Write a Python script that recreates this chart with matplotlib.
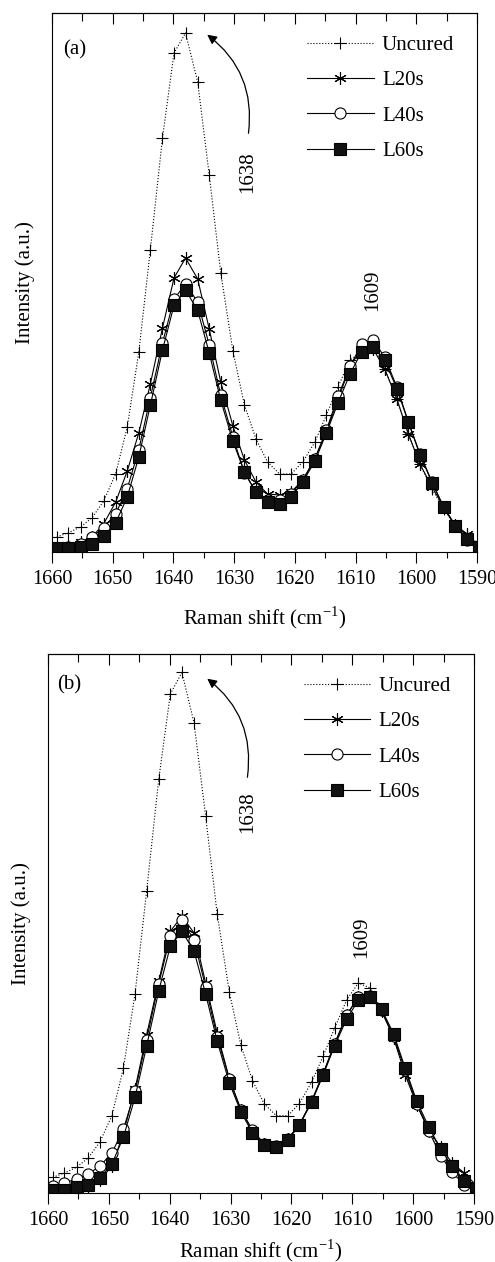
import matplotlib
matplotlib.use("Agg")
import matplotlib.pyplot as plt
from matplotlib.ticker import MultipleLocator

plt.rcParams['font.family'] = ['Liberation Serif', 'DejaVu Serif']
plt.rcParams['mathtext.fontset'] = 'custom'
plt.rcParams['mathtext.rm'] = 'Liberation Serif'
plt.rcParams['font.size'] = 15

# Raman shift positions of the sampled points (cm-1)
shift = [1659.2, 1657.3, 1655.3, 1653.4, 1651.5, 1649.5, 1647.6, 1645.7, 1643.8,
         1641.8, 1639.9, 1638.0, 1636.0, 1634.1, 1632.2, 1630.2, 1628.3, 1626.4,
         1624.5, 1622.5, 1620.6, 1618.7, 1616.7, 1614.8, 1612.9, 1610.9, 1609.0,
         1607.1, 1605.2, 1603.2, 1601.3, 1599.4, 1597.4, 1595.5, 1593.6, 1591.6,
         1589.7]

# panel (a)
a_uncured = [15, 19.3, 25, 34.3, 50.7, 78.3, 125, 200, 302, 414, 499, 519, 470, 377,
             279, 201, 147, 113, 90, 78, 78, 90, 110, 137, 165, 192, 200, 207, 183,
             153, 118, 88, 63, 43, 27, 17, 8]
a_l20 = [3, 6.7, 10, 15, 28, 50, 81, 119, 168, 224, 274, 294, 273, 223, 170, 126, 92,
         70, 58, 57, 60, 72, 93, 121, 152, 186, 203, 203, 183, 153, 118, 88, 65, 45,
         27, 18, 6]
a_l40 = [2.3, 5, 8.3, 15, 24.3, 38.3, 63.3, 102.3, 154.3, 209, 253, 268, 250, 207,
         156.7, 115, 79.3, 60, 51.7, 51.7, 58.3, 71.7, 93.3, 121.7, 155.7, 185.7,
         207.7, 211.7, 195, 165, 130, 98.3, 70, 45, 26, 11.7, 4]
a_l60 = [4, 4.3, 5, 8.3, 15.7, 29.3, 55, 95, 146.7, 202, 246.7, 261.7, 241.7, 199,
         151.7, 110.7, 80, 59.7, 50, 48.3, 55, 70, 90.7, 119, 149, 178.3, 200, 205,
         191.7, 163.3, 130, 97.3, 69.3, 45, 26, 12.7, 5]

# panel (b)
b_uncured = [15.7, 20, 25.7, 35, 50.7, 77.3, 125, 199.3, 301.7, 414, 499, 520.6, 470,
             376.7, 279, 200.7, 147.7, 112.3, 89.3, 77.3, 77.3, 89.3, 110.7, 136.7,
             165, 193.3, 210, 205, 183, 155, 120, 90, 63, 42, 26, 14, 5]
b_l20 = [1.7, 0, 3.3, 6.7, 13, 26.7, 60, 104, 158, 212, 261.7, 276.7, 260, 210, 160,
         114, 83, 62, 49, 46, 54, 68, 91, 119, 149, 178, 196, 197, 182, 155, 118, 88,
         62, 46, 30, 20, 8]
b_l40 = [6.7, 10, 14, 19, 26.7, 40, 64, 101.7, 153.3, 209.3, 256.7, 273.3, 252.7, 206,
         156, 114, 83.3, 62.7, 49.3, 46.7, 54, 68.3, 91.7, 119.3, 149.3, 178.3, 196,
         197.3, 182.7, 156.7, 122.7, 89.3, 61.7, 37.3, 20.7, 8.3, 2]
b_l60 = [3.3, 3.3, 6, 8.3, 15, 29, 56, 95.7, 146.7, 202.3, 246.7, 261.7, 241.7, 199,
         151.7, 110, 81, 60, 48.3, 45.7, 52.7, 67.7, 90.7, 117.7, 147.3, 174.3, 192.7,
         196, 184, 159, 124.7, 91.7, 65.7, 44, 26.7, 11.7, 4]


def panel(ax, tag, uncured, l20, l40, l60, lab1638, arrow, lab1609, xpad):
    ax.plot(shift, uncured, ls=':', lw=0.8, color='k', marker='+', ms=8, mew=0.8,
            label='Uncured')
    ax.plot(shift, l20, ls='-', lw=0.8, color='k', marker=(6, 2, 0), ms=9, mew=0.8,
            label='L20s')
    ax.plot(shift, l40, ls='-', lw=0.8, color='k', marker='o', ms=8, mew=0.8,
            mfc='white', label='L40s')
    ax.plot(shift, l60, ls='-', lw=0.8, color='k', marker='s', ms=8, mew=0.8,
            mfc='#111111', label='L60s')

    ax.set_xlim(1660, 1590)
    ax.set_ylim(0, 539)
    ax.set_yticks([])
    ax.xaxis.set_major_locator(MultipleLocator(10))
    ax.xaxis.set_minor_locator(MultipleLocator(5))
    ax.tick_params(axis='x', which='major', direction='out', length=8, width=0.8,
                   pad=5, labelsize=14.5)
    ax.tick_params(axis='x', which='minor', direction='out', length=4.5, width=0.8)
    for s in ax.spines.values():
        s.set_linewidth(0.8)

    top = ax.secondary_xaxis('top')
    top.xaxis.set_major_locator(MultipleLocator(10))
    top.xaxis.set_minor_locator(MultipleLocator(5))
    top.tick_params(which='major', direction='in', length=8, width=0.8, labeltop=False)
    top.tick_params(which='minor', direction='in', length=5.5, width=0.8)
    top.spines['top'].set_linewidth(0.8)

    ax.set_xlabel('Raman shift (cm$^{\\mathregular{-1}}$)', fontsize=15, labelpad=xpad)
    ax.set_ylabel('Intensity (a.u.)', fontsize=15, labelpad=12)

    ax.text(tag[1], tag[2], tag[0], ha='left', va='center', fontsize=15)
    ax.text(lab1638[0], lab1638[1], '1638', rotation=90, ha='center', va='center',
            fontsize=15)
    ax.text(lab1609[0], lab1609[1], '1609', rotation=90, ha='center', va='center',
            fontsize=15)
    ax.annotate('', xy=arrow[1], xytext=arrow[0],
                arrowprops=dict(arrowstyle='-|>', color='k', lw=0.9,
                                mutation_scale=14,
                                connectionstyle='arc3,rad=0.3'))

    ax.legend(loc='upper left', bbox_to_anchor=(0.6, 0.958), frameon=False,
              handlelength=3.2, handletextpad=0.4, labelspacing=0.75,
              borderpad=0, borderaxespad=0, fontsize=15)


fig = plt.figure(figsize=(4.95, 12.62), dpi=100)
ax1 = fig.add_axes([0.105, 0.5626, 0.8586, 0.4271])
ax2 = fig.add_axes([0.097, 0.0547, 0.8606, 0.4271])

panel(ax1, ('(a)', 1658.2, 502), a_uncured, a_l20, a_l40, a_l60,
      (1627.7, 380), ((1627.7, 416), (1634.8, 519)), (1607.1, 262), 11)
panel(ax2, ('(b)', 1658.5, 508), b_uncured, b_l20, b_l40, b_l60,
      (1627.2, 381), ((1627.3, 413), (1634.2, 516)), (1608.5, 256), 5)

fig.savefig('out.png', dpi=100)
